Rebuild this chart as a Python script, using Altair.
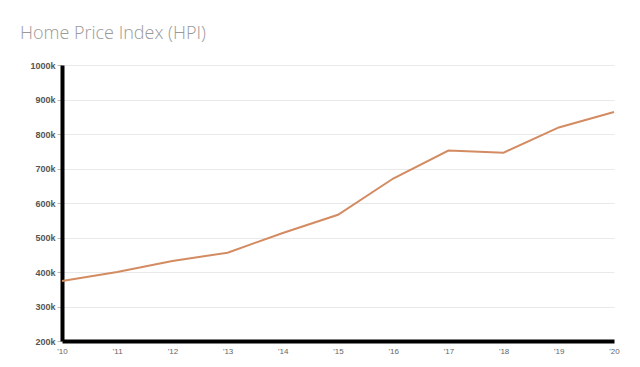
import altair as alt
import pandas as pd

years = [2010, 2011, 2012, 2013, 2014, 2015, 2016, 2017, 2018, 2019, 2020]
hpi = [374000, 400000, 432000, 456000, 513000, 566000, 671000, 752000, 746000, 819000, 864000]
y_ticks = [200000, 300000, 400000, 500000, 600000, 700000, 800000, 900000, 1000000]

df = pd.DataFrame({"year": years, "hpi": hpi})

chart = alt.Chart(df).mark_line(color="#d38b62", strokeWidth=2).encode(
    x=alt.X("year:Q",
            scale=alt.Scale(domain=[2010, 2020], nice=False, zero=False),
            axis=alt.Axis(values=years, labelExpr="\"'\" + slice(toString(datum.value), 2)",
                          grid=False, domain=True, domainColor="#000", domainWidth=4,
                          ticks=False, labelPadding=6, labelFontSize=8, labelColor="#666",
                          labelFont="Liberation Sans", title=None, labelFlush=False)),
    y=alt.Y("hpi:Q",
            scale=alt.Scale(domain=[200000, 1000000], nice=False, zero=False),
            axis=alt.Axis(values=y_ticks, labelExpr="datum.value/1000 + 'k'",
                          grid=True, gridColor="#e9e9e9", gridWidth=1,
                          domain=True, domainColor="#000", domainWidth=4,
                          ticks=True, tickSize=5, tickColor="#bbb", labelPadding=2,
                          labelFontSize=9, labelFontWeight="bold", labelColor="#555",
                          labelFont="Liberation Sans", title=None)),
).properties(
    width=552, height=276,
    autosize=alt.AutoSizeParams(type="none"),
    padding={"left": 54, "top": 57, "right": 18, "bottom": 18},
    background="white",
    title=alt.TitleParams("Home Price Index (HPI)", anchor="start", frame="group",
                          dx=-42, offset=18, fontSize=18, fontWeight=300,
                          font="Open Sans", color="#9a9a9a"),
).configure_view(stroke=None)

chart.save("out.html", embed_options={"renderer": "svg", "actions": False})
